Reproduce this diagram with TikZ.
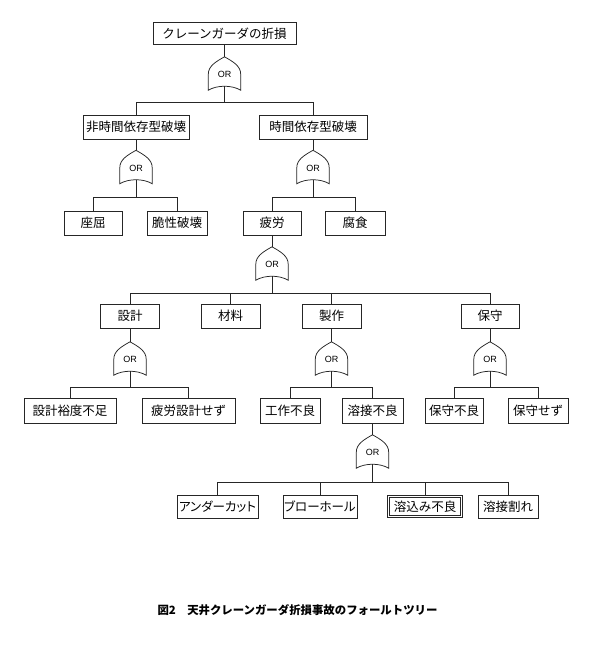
\documentclass[tikz,border=0pt]{standalone}
\usepackage{fontspec}
\setmainfont{Noto Sans CJK JP}
\newfontfamily\kanafont[RawFeature=+palt]{Noto Sans CJK JP}
\newfontfamily\orfont{Liberation Sans}
\usetikzlibrary{positioning}
\tikzset{
    link/.style={line width=0.75pt, draw=black!85},
    evt/.style={rectangle, draw=black!85, line width=0.75pt, minimum height=24pt,
        inner sep=0pt, font=\fontsize{12.5}{14}\selectfont},
    basic/.style={evt, double, double distance=1.6pt, line width=0.6pt},
    gatebox/.style={minimum width=32pt, minimum height=29pt, inner sep=0pt},
    gatetext/.style={inner sep=0pt, font=\orfont\fontsize{9}{10}\selectfont}
}
\newcommand{\orgate}[2]{%
    \node[gatebox] (#1) at (#2) {};
    \node[gatetext] (#1t) at ([yshift=-3pt]#1.center) {OR};
    \draw[link] ([yshift=-4pt]#1.south west) -- ([yshift=12pt]#1.south west)
        .. controls +(0pt,8pt) and +(-9pt,-5pt) .. (#1.north)
        .. controls +(9pt,-5pt) and +(0pt,8pt) .. ([yshift=12pt]#1.south east)
        -- ([yshift=-4pt]#1.south east)
        .. controls +(-9pt,5.3pt) and +(9pt,5.3pt) .. cycle;
}

\begin{document}
\begin{tikzpicture}[x=1pt, y=-1pt]
    \fill[white] (0,0) rectangle (591,649);
    \useasboundingbox (0,0) rectangle (591,649);

    \node[evt, minimum width=143pt, minimum height=21.6pt] (Top) at (224.5,33.5) {クレーンガーダの折損};
    \orgate{G1}{224.5,71.5}
    \coordinate (B1) at (224.5,102);
    \node[evt, minimum width=106pt] (NonTime) at (136,127) {非時間依存型破壊};
    \node[evt, minimum width=108pt] (TimeDep) at (313,127) {時間依存型破壊};

    \orgate{G2}{136,165}
    \coordinate (B2) at (136,197);
    \orgate{G3}{313,165}
    \coordinate (B3) at (313,197);
    \node[evt, minimum width=58pt] (Buckle) at (93,223) {座屈};
    \node[evt, minimum width=60pt] (Brittle) at (177,223) {脆性破壊};
    \node[evt, minimum width=58pt] (Fatigue) at (272,223) {疲労};
    \node[evt, minimum width=60pt] (Corrosion) at (355,223) {腐食};

    \orgate{G4}{272,261.5}
    \coordinate (B4) at (272,293);
    \node[evt, minimum width=59pt] (Design) at (130,316) {設計};
    \node[evt, minimum width=59pt] (Material) at (230.5,316) {材料};
    \node[evt, minimum width=59pt] (Fabric) at (331.5,316) {製作};
    \node[evt, minimum width=58pt] (Maint) at (490,316) {保守};

    \orgate{G5}{130,356.5}
    \coordinate (B5) at (130,387);
    \orgate{G6}{331.5,356.5}
    \coordinate (B6) at (331.5,387);
    \orgate{G7}{490,356.5}
    \coordinate (B7) at (490,387);
    \node[evt, minimum width=92pt, minimum height=25pt] (Margin) at (70,410.5) {設計裕度不足};
    \node[evt, minimum width=93pt, minimum height=25pt] (NoFatDes) at (188.5,410.5) {疲労設計せず};
    \node[evt, minimum width=60pt, minimum height=25pt] (WorkBad) at (290,410.5) {工作不良};
    \node[evt, minimum width=61pt, minimum height=25pt] (WeldBad) at (372.5,410.5) {溶接不良};
    \node[evt, minimum width=58pt, minimum height=25pt] (MaintBad) at (454,410.5) {保守不良};
    \node[evt, minimum width=60pt, minimum height=25pt] (NoMaint) at (538,410.5) {保守せず};

    \orgate{G8}{372.5,449.5}
    \coordinate (B8) at (372.5,482);
    \node[evt, minimum width=81pt, minimum height=23pt] (UnderCut) at (217.5,506.5) {\kanafont アンダーカット};
    \node[evt, minimum width=74pt, minimum height=23pt] (BlowHole) at (320,506.5) {\kanafont ブローホール};
    \node[basic, minimum width=73pt, minimum height=20pt] (LackFus) at (425,506.5) {溶込み不良};
    \node[evt, minimum width=60pt, minimum height=23pt] (WeldCrack) at (508,506.5) {溶接割れ};

    \draw[link] (Top) -- (G1.north);
    \draw[link] (G1.south) -- (B1) -| (NonTime.north);
    \draw[link] (B1) -| (TimeDep.north);
    \draw[link] (NonTime) -- (G2.north);
    \draw[link] (TimeDep) -- (G3.north);
    \draw[link] (G2.south) -- (B2) -| (Buckle.north);
    \draw[link] (B2) -| (Brittle.north);
    \draw[link] (G3.south) -- (B3) -| (Fatigue.north);
    \draw[link] (B3) -| (Corrosion.north);
    \draw[link] (Fatigue) -- (G4.north);
    \draw[link] (G4.south) -- (B4) -| (Design.north);
    \draw[link] (B4) -| (Material.north);
    \draw[link] (B4) -| (Fabric.north);
    \draw[link] (B4) -| (Maint.north);
    \draw[link] (Design) -- (G5.north);
    \draw[link] (Fabric) -- (G6.north);
    \draw[link] (Maint) -- (G7.north);
    \draw[link] (G5.south) -- (B5) -| (Margin.north);
    \draw[link] (B5) -| (NoFatDes.north);
    \draw[link] (G6.south) -- (B6) -| (WorkBad.north);
    \draw[link] (B6) -| (WeldBad.north);
    \draw[link] (G7.south) -- (B7) -| (MaintBad.north);
    \draw[link] (B7) -| (NoMaint.north);
    \draw[link] (WeldBad) -- (G8.north);
    \draw[link] (G8.south) -- (B8) -| (UnderCut.north);
    \draw[link] (B8) -| (BlowHole.north);
    \draw[link] (B8) -| ([yshift=1.5pt]LackFus.north);
    \draw[link] (B8) -| (WeldCrack.north);

    \node[font=\fontsize{11.4}{13}\selectfont\bfseries] (Caption) at (297.5,610) {図2　天井クレーンガーダ折損事故のフォールトツリー};
\end{tikzpicture}
\end{document}
